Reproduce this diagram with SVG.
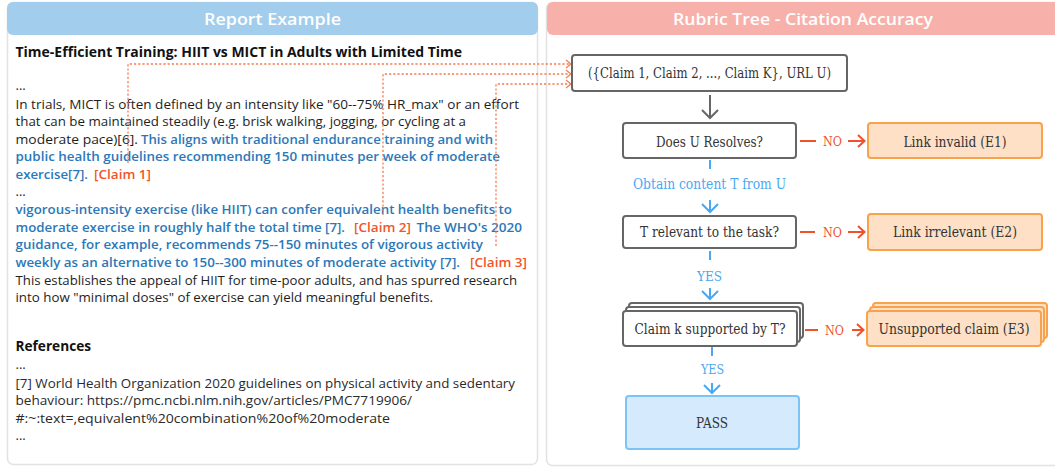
<svg xmlns="http://www.w3.org/2000/svg" width="1055" height="467" viewBox="0 0 1055 467">
<defs>
<style>
.panel{fill:#ffffff;stroke:#e2e2e2;stroke-width:1.5}
.hdr{font-family:"Open Sans","Noto Sans",sans-serif;font-size:17px;font-weight:600;fill:#ffffff}
.t{font-family:"Open Sans","Noto Sans",sans-serif;font-size:13px;fill:#1e1e1e}
.b{font-weight:600;fill:#2b78b9}
.c{fill:#f0552a;font-weight:600}
.bold{font-weight:700;fill:#111111}
.ref{fill:#2a2a2a}
.s{font-family:"DejaVu Serif","Liberation Serif",serif;font-size:14.5px;fill:#333333;text-anchor:middle}
.lab{font-size:13.5px}
.no{fill:#f0502a}
.yes{fill:#4aa8f2}
.gbox{fill:#ffffff;stroke:#666666;stroke-width:2}
.obox{fill:#fde0c6;stroke:#f9a24c;stroke-width:2}
.pbox{fill:#d5eafc;stroke:#7cc3f6;stroke-width:2}
.dash{fill:none;stroke:#f47c52;stroke-width:1.3;stroke-dasharray:2.2 2}
.dhead{fill:none;stroke:#f47c52;stroke-width:1.2}
.gline{fill:none;stroke:#666666;stroke-width:2}
.rline{fill:none;stroke:#f0502a;stroke-width:2}
.bline{fill:none;stroke:#4aa8f2;stroke-width:2}
</style>
</defs>

<g id="left-panel">
<rect class="panel" x="7.5" y="2.5" width="530" height="462" rx="6"/>
<rect x="7" y="2" width="531" height="33" rx="6" fill="#a2cdec"/>
<text class="hdr" x="272.5" y="25" text-anchor="middle" textLength="137" lengthAdjust="spacingAndGlyphs">Report Example</text>
</g>

<g id="right-panel">
<rect class="panel" x="546.5" y="2.5" width="520" height="463" rx="6"/>
<rect x="547" y="2" width="520" height="33" rx="6" fill="#f8b1aa"/>
<text class="hdr" x="803" y="25" text-anchor="middle" textLength="260" lengthAdjust="spacingAndGlyphs">Rubric Tree - Citation Accuracy</text>
</g>

<g id="report-text">
<text class="t bold" x="15.5" y="57" style="font-size:15px" textLength="446.5" lengthAdjust="spacingAndGlyphs">Time-Efficient Training: HIIT vs MICT in Adults with Limited Time</text>
<text class="t" x="15.5" y="90">...</text>
<text class="t" x="15.5" y="108.5" textLength="503.5" lengthAdjust="spacingAndGlyphs">In trials, MICT is often defined by an intensity like "60--75% HR_max" or an effort</text>
<text class="t" x="15.5" y="126.1" textLength="450.5" lengthAdjust="spacingAndGlyphs">that can be maintained steadily (e.g. brisk walking, jogging, or cycling at a</text>
<text class="t" x="15.5" y="143.7" textLength="122.5" lengthAdjust="spacingAndGlyphs">moderate pace)[6].</text>
<text class="t b" x="141" y="143.7" textLength="352" lengthAdjust="spacingAndGlyphs">This aligns with traditional endurance training and with</text>
<text class="t b" x="15.5" y="161.3" textLength="484.5" lengthAdjust="spacingAndGlyphs">public health guidelines recommending 150 minutes per week of moderate</text>
<text class="t b" x="15.5" y="178.9" textLength="72.5" lengthAdjust="spacingAndGlyphs">exercise[7].</text>
<text class="t c" x="94" y="178.9" textLength="57" lengthAdjust="spacingAndGlyphs">[Claim 1]</text>
<text class="t" x="15.5" y="195.5">...</text>
<text class="t b" x="15.5" y="214.1" textLength="496.5" lengthAdjust="spacingAndGlyphs">vigorous-intensity exercise (like HIIT) can confer equivalent health benefits to</text>
<text class="t b" x="15.5" y="231.7" textLength="329.5" lengthAdjust="spacingAndGlyphs">moderate exercise in roughly half the total time [7].</text>
<text class="t c" x="354" y="231.7" textLength="57" lengthAdjust="spacingAndGlyphs">[Claim 2]</text>
<text class="t b" x="416.5" y="231.7" textLength="105.5" lengthAdjust="spacingAndGlyphs">The WHO's 2020</text>
<text class="t b" x="15.5" y="249.3" textLength="467.5" lengthAdjust="spacingAndGlyphs">guidance, for example, recommends 75--150 minutes of vigorous activity</text>
<text class="t b" x="15.5" y="266.9" textLength="444.5" lengthAdjust="spacingAndGlyphs">weekly as an alternative to 150--300 minutes of moderate activity [7].</text>
<text class="t c" x="470" y="266.9" textLength="57" lengthAdjust="spacingAndGlyphs">[Claim 3]</text>
<text class="t" x="15.5" y="284.5" textLength="501.5" lengthAdjust="spacingAndGlyphs">This establishes the appeal of HIIT for time-poor adults, and has spurred research</text>
<text class="t" x="15.5" y="302.1" textLength="417.5" lengthAdjust="spacingAndGlyphs">into how "minimal doses" of exercise can yield meaningful benefits.</text>
<text class="t bold" x="15.5" y="351" style="font-size:14px" textLength="75.5" lengthAdjust="spacingAndGlyphs">References</text>
<text class="t ref" x="15.5" y="368.5">...</text>
<text class="t ref" x="15.5" y="387.5" textLength="499.5" lengthAdjust="spacingAndGlyphs">[7] World Health Organization 2020 guidelines on physical activity and sedentary</text>
<text class="t ref" x="15.5" y="405" textLength="396.5" lengthAdjust="spacingAndGlyphs">behaviour: https://pmc.ncbi.nlm.nih.gov/articles/PMC7719906/</text>
<text class="t ref" x="15.5" y="422.5" textLength="374.5" lengthAdjust="spacingAndGlyphs">#:~:text=,equivalent%20combination%20of%20moderate</text>
<text class="t ref" x="15.5" y="440">...</text>
</g>

<g id="connectors">
<path class="dash" d="M128,163 V64 H570"/>
<path class="dash" d="M383,215 V74 H570"/>
<path class="dash" d="M496,246 V84 H570"/>
<path class="dhead" d="M566,60 L571,64 L566,68"/>
<path class="dhead" d="M566,70 L571,74 L566,78"/>
<path class="dhead" d="M566,80 L571,84 L566,88"/>

<path class="gline" d="M710,95 V117"/>
<path class="gline" d="M702,110 L710,118 L718,110"/>

<path class="rline" d="M800,141 H816"/>
<path class="rline" d="M848,141 H864"/>
<path class="rline" d="M858,135 L864.5,141 L858,147"/>
<text class="s lab no" x="832.5" y="146" textLength="19" lengthAdjust="spacingAndGlyphs">NO</text>

<path class="rline" d="M800,232 H815"/>
<path class="rline" d="M848,232 H864"/>
<path class="rline" d="M858,226 L864.5,232 L858,238"/>
<text class="s lab no" x="832.5" y="237" textLength="19" lengthAdjust="spacingAndGlyphs">NO</text>

<path class="rline" d="M805,330 H818"/>
<path class="rline" d="M852,330 H863"/>
<path class="rline" d="M857,324 L863.5,330 L857,336"/>
<text class="s lab no" x="834.5" y="335" textLength="19" lengthAdjust="spacingAndGlyphs">NO</text>

<path class="bline" d="M710,160 V169"/>
<text class="s yes" x="709.5" y="188.5" style="font-size:14px" textLength="153" lengthAdjust="spacingAndGlyphs">Obtain content T from U</text>
<path class="bline" d="M710,200 V211"/>
<path class="bline" d="M702,204 L710,212 L718,204"/>

<path class="bline" d="M710,251 V260"/>
<text class="s lab yes" x="709.5" y="280.5" textLength="25" lengthAdjust="spacingAndGlyphs">YES</text>
<path class="bline" d="M710,288 V298"/>
<path class="bline" d="M702,291 L710,299 L718,291"/>

<path class="bline" d="M712,347 V356"/>
<text class="s lab yes" x="712.5" y="373.5" textLength="23" lengthAdjust="spacingAndGlyphs">YES</text>
<path class="bline" d="M712,383 V392"/>
<path class="bline" d="M704,385 L712,393 L720,385"/>
</g>

<g id="node-input">
<rect class="gbox" x="572" y="55" width="275" height="36" rx="3"/>
<text class="s" x="709.5" y="78" textLength="243" lengthAdjust="spacingAndGlyphs">({Claim 1, Claim 2, ..., Claim K}, URL U)</text>
</g>

<g id="node-resolves">
<rect class="gbox" x="623" y="123" width="173" height="35" rx="3"/>
<text class="s" x="709.5" y="146.5" textLength="107" lengthAdjust="spacingAndGlyphs">Does U Resolves?</text>
</g>

<g id="node-e1">
<rect class="obox" x="868" y="123" width="174" height="35" rx="3"/>
<text class="s" x="955" y="146.5" textLength="103" lengthAdjust="spacingAndGlyphs">Link invalid (E1)</text>
</g>

<g id="node-relevant">
<rect class="gbox" x="623" y="216" width="173" height="32" rx="3"/>
<text class="s" x="709.5" y="237" textLength="139" lengthAdjust="spacingAndGlyphs">T relevant to the task?</text>
</g>

<g id="node-e2">
<rect class="obox" x="868" y="214" width="174" height="36" rx="3"/>
<text class="s" x="955" y="237" textLength="124" lengthAdjust="spacingAndGlyphs">Link irrelevant (E2)</text>
</g>

<g id="node-supported">
<rect class="gbox" x="629" y="303" width="174" height="35" rx="3"/>
<rect class="gbox" x="626" y="307" width="174" height="35" rx="3"/>
<rect class="gbox" x="623" y="311" width="174" height="35" rx="3"/>
<text class="s" x="710" y="334" textLength="151" lengthAdjust="spacingAndGlyphs">Claim k supported by T?</text>
</g>

<g id="node-e3">
<rect class="obox" x="873" y="303" width="174" height="35" rx="3"/>
<rect class="obox" x="870" y="307" width="174" height="35" rx="3"/>
<rect class="obox" x="867" y="311" width="174" height="35" rx="3"/>
<text class="s" x="954" y="334" textLength="151" lengthAdjust="spacingAndGlyphs">Unsupported claim (E3)</text>
</g>

<g id="node-pass">
<rect class="pbox" x="626" y="396" width="173" height="53" rx="3"/>
<text class="s" x="712" y="428" textLength="32" lengthAdjust="spacingAndGlyphs">PASS</text>
</g>
</svg>
